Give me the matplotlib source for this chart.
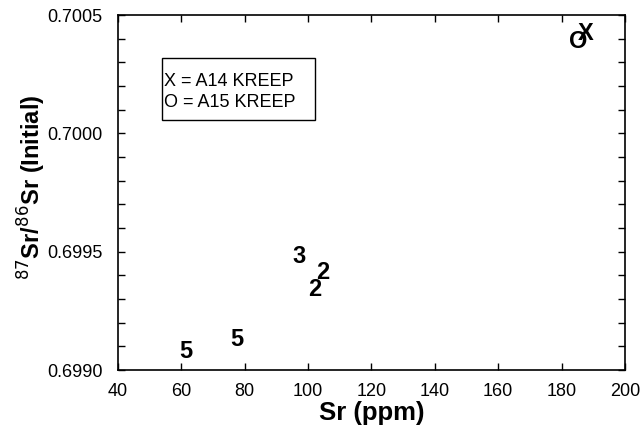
import matplotlib.pyplot as plt
from matplotlib.patches import Rectangle
from matplotlib.ticker import MultipleLocator, FormatStrFormatter

plt.rcParams['font.family'] = ['Liberation Sans', 'DejaVu Sans']

# sample points, plotted as text symbols
sr_ppm = [61.5, 77.5, 97.0, 104.5, 102.0, 185.3, 187.6]
sr_initial = [0.69908, 0.69913, 0.69948, 0.69941, 0.69934, 0.70039, 0.70042]
symbols = ['5', '5', '3', '2', '2', 'O', 'X']

legend_lines = ['X = A14 KREEP', 'O = A15 KREEP']

fig = plt.figure(figsize=(6.43, 4.29), dpi=100)
ax = fig.add_axes([0.1835, 0.1375, 0.7885, 0.8275])

for x, y, s in zip(sr_ppm, sr_initial, symbols):
    ax.text(x, y, s, ha='center', va='center', fontsize=17, fontweight='bold')

ax.set_xlim(40, 200)
ax.set_ylim(0.6990, 0.7005)
ax.xaxis.set_major_locator(MultipleLocator(20))
ax.yaxis.set_major_locator(MultipleLocator(0.0005))
ax.yaxis.set_minor_locator(MultipleLocator(0.0001))
ax.yaxis.set_major_formatter(FormatStrFormatter('%.4f'))

ax.tick_params(which='both', direction='in', top=True, right=True,
               length=5, width=1, labelsize=13)
ax.tick_params(axis='x', pad=9)
ax.tick_params(axis='y', pad=11)
for sp in ax.spines.values():
    sp.set_linewidth(1.2)

ax.set_xlabel('Sr (ppm)', fontsize=18.5, fontweight='bold', labelpad=1)
ax.set_ylabel(r'$^{87}$Sr/$^{86}$Sr (Initial)', fontsize=17, fontweight='bold')
ax.yaxis.set_label_coords(-0.138, 0.515)

# key box
ax.add_patch(Rectangle((0.0868, 0.704), 0.302, 0.175, transform=ax.transAxes,
                       facecolor='white', edgecolor='black', linewidth=1, zorder=3))
ax.text(0.091, 0.784, '\n'.join(legend_lines), transform=ax.transAxes,
        ha='left', va='center', fontsize=13, linespacing=1.3, zorder=4)

fig.savefig('out.png', dpi=100)
